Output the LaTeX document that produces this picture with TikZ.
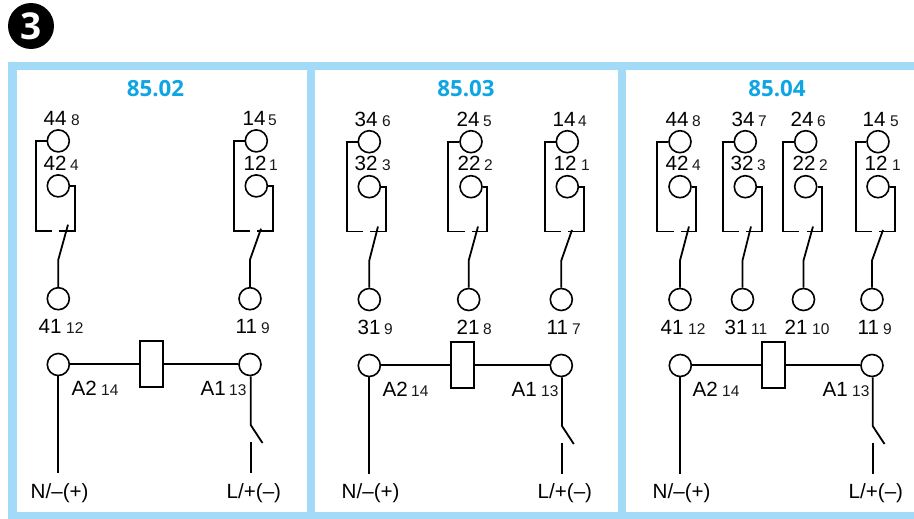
\documentclass[tikz,border=0pt]{standalone}
\usepackage{fontspec}
\setmainfont{Liberation Sans}
\newfontfamily\titlefont{Open Sans}
\definecolor{panelblue}{HTML}{A2DAF8}
\definecolor{titleblue}{HTML}{0EA5E4}
\tikzset{
  term/.style={circle,draw=black,line width=1.6pt,fill=white,minimum size=22pt,inner sep=0pt},
  wire/.style={draw=black,line width=1.8pt,line cap=butt,line join=miter},
  coilbox/.style={rectangle,draw=black,line width=1.6pt,fill=white,minimum width=22.5pt,minimum height=45.5pt,inner sep=0pt},
  mainlabel/.style={anchor=base west,inner sep=0pt,xshift=-0.5pt,font=\fontsize{20.6}{21}\selectfont,text=black},
  smalllabel/.style={anchor=base west,inner sep=0pt,font=\fontsize{15.5}{15.5}\selectfont,text=black!90},
  paneltitle/.style={anchor=base,inner sep=0pt,font=\titlefont\bfseries\fontsize{22.3}{23}\selectfont,text=titleblue}
}
% id, cx, knee/bottom terminal x, left, right, blade top x, blade top y, y offset
\newcommand{\contactcol}[8]{%
  \node[term] (#1t) at (#2,141.7+#8) {};
  \node[term] (#1m) at (#2,186.7+#8) {};
  \node[term] (#1b) at (#3,299.5+#8) {};
  \coordinate (#1tl) at (#4,141.7+#8);
  \coordinate (#1bl) at (#4,231.5+#8);
  \coordinate (#1gl) at (#2-6.5,231.5+#8);
  \coordinate (#1gr) at (#2+1,231.5+#8);
  \coordinate (#1br) at (#5,231.5+#8);
  \coordinate (#1mr) at (#5,186.7+#8);
  \coordinate (#1bt) at (#6,#7+#8);
  \coordinate (#1kn) at (#3,260.5+#8);
  \draw[wire] (#1t.west) -- (#1tl) -- (#1bl) -- (#1gl);
  \draw[wire] (#1m.east) -- (#1mr) -- (#1br) -- (#1gr);
  \draw[wire] (#1bt) -- (#1kn) -- (#1b.north);
}
% id, x, y, main, small-x, small
\newcommand{\termlabel}[6]{%
  \node[mainlabel] (#1m) at (#2,#3) {#4};
  \node[smalllabel] (#1s) at (#5,#3) {#6};
}
% id, A2 x, A1 x, coil x, y offset
\newcommand{\coilrow}[5]{%
  \node[term] (#1a) at (#2,365.5+#5) {};
  \node[term] (#1c) at (#3,365.5+#5) {};
  \node[coilbox] (#1k) at (#4,365.5+#5-0.5) {};
  \coordinate (#1ae) at (#2,474+#5);
  \coordinate (#1kn) at (#3+0.7,426+#5);
  \coordinate (#1sw) at (#3+12.5,444+#5);
  \coordinate (#1ls) at (#3+0.7,443+#5);
  \coordinate (#1le) at (#3+0.7,474+#5);
  \draw[wire] (#1a.east |- #1k.west) -- (#1k.west);
  \draw[wire] (#1k.east) -- (#1c.west |- #1k.east);
  \draw[wire] (#1a.south) -- (#1ae);
  \draw[wire] (#1c.south -| #1kn) -- (#1kn) -- (#1sw);
  \draw[wire] (#1ls) -- (#1le);
}
\begin{document}
\begin{tikzpicture}[x=1pt,y=-1pt]
\useasboundingbox (0,0) rectangle (914,519);
% badge
\node[circle,fill=black,minimum size=46pt,inner sep=0pt,text=white,font=\titlefont\bfseries\fontsize{37}{37}\selectfont] (badge) at (31,26) {3};
% panels
\fill[panelblue] (8,62) rectangle (914,519);
\fill[white] (17,70) rectangle (307,511.5);
\fill[white] (315,70) rectangle (618,511.5);
\fill[white] (626,70) rectangle (914,511.5);
\node[paneltitle] (tA) at (155.5,96) {85.02};
\node[paneltitle] (tB) at (466,96) {85.03};
\node[paneltitle] (tC) at (777,96) {85.04};
% panel 1
\contactcol{pa}{58.3}{58.3}{36}{75}{68}{225.5}{-0.8}
\contactcol{pb}{256.3}{250}{234}{273}{261}{229.5}{-0.8}
\coilrow{ca}{58.3}{250}{151.5}{-1}
\termlabel{la1}{44}{125}{44}{71}{8}
\termlabel{la2}{44}{170}{42}{70}{4}
\termlabel{la3}{39}{333}{41}{66}{12}
\termlabel{la4}{243}{125}{14}{268}{5}
\termlabel{la5}{244}{170}{12}{269}{1}
\termlabel{la6}{236}{333}{11}{261}{9}
\termlabel{la7}{72}{395}{A2}{101}{14}
\termlabel{la8}{201}{395}{A1}{229}{13}
\node[mainlabel] (na) at (31,498) {N/–(+)};
\node[mainlabel] (nb) at (227,498) {L/+(–)};
% panel 2
\contactcol{pc}{369.3}{369.3}{347}{386}{378}{226.5}{0}
\contactcol{pd}{471}{468.7}{448}{487}{478}{226.5}{0}
\contactcol{pe}{567.3}{561.3}{545}{584}{572}{230}{0}
\coilrow{cb}{369.3}{561.3}{462.5}{0}
\termlabel{lb1}{355}{126}{34}{382}{6}
\termlabel{lb2}{355}{171}{32}{382}{3}
\termlabel{lb3}{358}{334}{31}{384}{9}
\termlabel{lb4}{457}{126}{24}{483}{5}
\termlabel{lb5}{458}{171}{22}{484}{2}
\termlabel{lb6}{457}{334}{21}{483}{8}
\termlabel{lb7}{553}{126}{14}{578}{4}
\termlabel{lb8}{554}{171}{12}{581}{1}
\termlabel{lb9}{547}{334}{11}{572}{7}
\termlabel{lb10}{383}{396}{A2}{411}{14}
\termlabel{lb11}{512}{396}{A1}{541}{13}
\node[mainlabel] (nc) at (342,498) {N/–(+)};
\node[mainlabel] (nd) at (538,498) {L/+(–)};
% panel 3
\contactcol{pf}{680}{680}{657}{696}{689}{226.5}{0}
\contactcol{pg}{745.3}{742.5}{723}{762}{751}{226.5}{0}
\contactcol{ph}{805.7}{803.5}{783}{822}{813}{226.5}{0}
\contactcol{pi}{878}{872}{856}{895}{883}{230}{0}
\coilrow{cc}{680.3}{872}{773.5}{0}
\termlabel{lc1}{666}{126}{44}{692}{8}
\termlabel{lc2}{666}{171}{42}{692}{4}
\termlabel{lc3}{661}{334}{41}{688}{12}
\termlabel{lc4}{732}{126}{34}{758}{7}
\termlabel{lc5}{731}{171}{32}{757}{3}
\termlabel{lc6}{725}{334}{31}{751}{11}
\termlabel{lc7}{791}{126}{24}{817}{6}
\termlabel{lc8}{793}{171}{22}{819}{2}
\termlabel{lc9}{785}{334}{21}{812}{10}
\termlabel{lc10}{863}{126}{14}{890}{5}
\termlabel{lc11}{865}{171}{12}{892}{1}
\termlabel{lc12}{858}{334}{11}{883}{9}
\termlabel{lc13}{693}{396}{A2}{722}{14}
\termlabel{lc14}{823}{396}{A1}{852}{13}
\node[mainlabel] (ne) at (653,498) {N/–(+)};
\node[mainlabel] (nf) at (849,498) {L/+(–)};
\end{tikzpicture}
\end{document}
